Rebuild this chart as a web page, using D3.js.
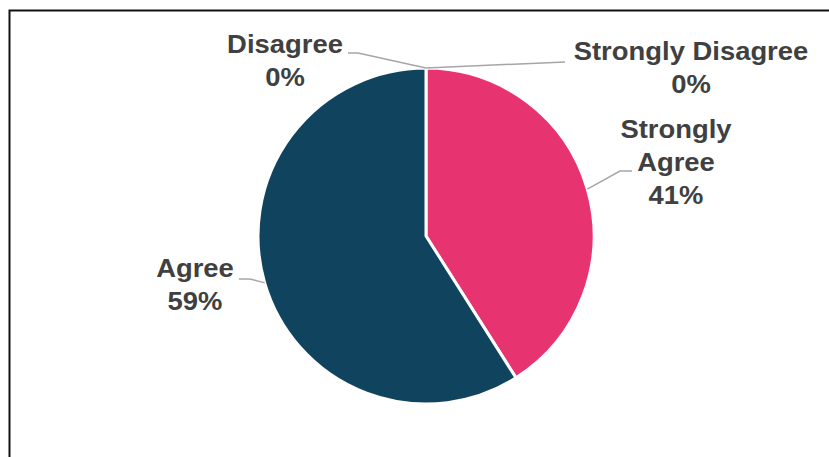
<!DOCTYPE html>
<html>
<head>
<meta charset="utf-8">
<script src="https://cdn.jsdelivr.net/npm/d3@7/dist/d3.min.js"></script>
<style>
  html, body { margin: 0; padding: 0; background: #fff; }
  svg { display: block; }
  .lbl { font-family: "Liberation Sans", Arial, sans-serif; font-weight: bold; font-size: 25.5px; fill: #404040; }
</style>
</head>
<body>
<svg id="chart" width="829" height="457"></svg>
<script>
// Survey responses (percent)
const categories = ["Strongly Agree", "Agree", "Disagree", "Strongly Disagree"];
const values = [41, 59, 0, 0];
const labelLines = [["Strongly", "Agree"], ["Agree"], ["Disagree"], ["Strongly Disagree"]];
const colors = ["#E83371", "#10445E", "#A5A5A5", "#7F7F7F"];

const W = 829, H = 457;
const cx = 426, cy = 236, R = 168;

// Label placement: elbow/end of the leader line and text block position
const labelLayout = {
  "Strongly Agree":    { elbow: [620, 171], end: [632, 171], x: 676, y: 138 },
  "Agree":             { elbow: [250, 279], end: [239, 279], x: 195, y: 277 },
  "Disagree":          { elbow: [358, 53],  end: [348, 53],  x: 285, y: 53 },
  "Strongly Disagree": { elbow: null,       end: [565, 62],  x: 691, y: 60 }
};
const lineGap = 33;
const textStretch = 1.075;

const svg = d3.select("#chart");

// chart frame
svg.append("rect")
  .attr("x", 9.5).attr("y", 10.5)
  .attr("width", W).attr("height", H)
  .attr("fill", "none").attr("stroke", "#111").attr("stroke-width", 2);

const data = categories.map((c, i) => ({ cat: c, value: values[i], lines: labelLines[i], color: colors[i] }));

const pie = d3.pie().sort(null).value(d => d.value);
const arcs = pie(data);
const arc = d3.arc().innerRadius(0).outerRadius(R);

const g = svg.append("g").attr("transform", `translate(${cx},${cy})`);

g.selectAll("path.slice")
  .data(arcs.filter(a => a.data.value > 0))
  .join("path")
  .attr("class", "slice")
  .attr("d", arc)
  .attr("fill", d => d.data.color)
  .attr("stroke", "#fff")
  .attr("stroke-width", 3)
  .attr("stroke-linejoin", "round");

// leader lines from each slice's outer edge midpoint
const anchorOf = a => {
  const m = (a.startAngle + a.endAngle) / 2;
  return [cx + R * Math.sin(m), cy - R * Math.cos(m)];
};

arcs.forEach(a => {
  const L = labelLayout[a.data.cat];
  const p0 = anchorOf(a);
  const pts = [p0];
  if (L.elbow) pts.push(L.elbow);
  pts.push(L.end);
  svg.append("path")
    .attr("d", d3.line()(pts))
    .attr("fill", "none")
    .attr("stroke", "#A6A6A6")
    .attr("stroke-width", 1.5);

  const t = svg.append("text")
    .attr("class", "lbl")
    .attr("text-anchor", "middle")
    .attr("transform", `translate(${L.x},0) scale(${textStretch},1)`);
  const lines = a.data.lines.concat([d3.format(".0f")(a.data.value) + "%"]);
  lines.forEach((s, i) => {
    t.append("tspan").attr("x", 0).attr("y", L.y + i * lineGap).text(s);
  });
});
</script>
</body>
</html>
